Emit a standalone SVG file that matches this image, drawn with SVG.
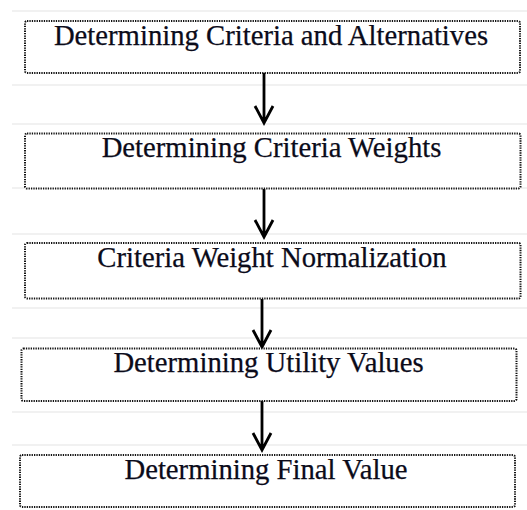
<svg xmlns="http://www.w3.org/2000/svg" width="527" height="510" viewBox="0 0 527 510">
<style>
.bg{fill:#ffffff}
.rule{stroke:#ececec;stroke-width:1.5}
.box{fill:#ffffff;stroke:#111;stroke-width:2;stroke-dasharray:1.3 1.1}
.lbl{font-family:"Liberation Serif","Times New Roman",serif;font-size:28.7px;fill:#0b0b1a;stroke:#0b0b1a;stroke-width:0.25;text-anchor:middle}
.arr{stroke:#000;stroke-width:2.8;fill:none}
</style>
<rect class="bg" x="0" y="0" width="527" height="510"/>
<g id="rules">
<line class="rule" x1="12" y1="11" x2="527" y2="11"/>
<line class="rule" x1="12" y1="85" x2="527" y2="85"/>
<line class="rule" x1="12" y1="124" x2="527" y2="124"/>
<line class="rule" x1="12" y1="188" x2="527" y2="188"/>
<line class="rule" x1="12" y1="234" x2="527" y2="234"/>
<line class="rule" x1="12" y1="308" x2="527" y2="308"/>
<line class="rule" x1="12" y1="338" x2="527" y2="338"/>
<line class="rule" x1="12" y1="412" x2="527" y2="412"/>
<line class="rule" x1="12" y1="445" x2="527" y2="445"/>
</g>
<g id="connectors">
<path class="arr" d="M264 73 V123 M255 106 L264 123 L273 106"/>
<path class="arr" d="M264 189 V237 M255 220 L264 237 L273 220"/>
<path class="arr" d="M262 299 V347 M253 330 L262 347 L271 330"/>
<path class="arr" d="M262 401 V450 M253 433 L262 450 L271 433"/>
</g>
<g id="n1">
<rect class="box" x="25" y="21" width="495" height="52" rx="2"/>
<text class="lbl" x="271" y="45">Determining Criteria and Alternatives</text>
</g>
<g id="n2">
<rect class="box" x="25" y="133.5" width="495.5" height="55" rx="2"/>
<text class="lbl" x="271.5" y="157">Determining Criteria Weights</text>
</g>
<g id="n3">
<rect class="box" x="25" y="243" width="495.5" height="55.5" rx="2"/>
<text class="lbl" x="272" y="267">Criteria Weight Normalization</text>
</g>
<g id="n4">
<rect class="box" x="21.5" y="348.5" width="495" height="52.5" rx="2"/>
<text class="lbl" x="268.5" y="372">Determining Utility Values</text>
</g>
<g id="n5">
<rect class="box" x="20" y="455" width="495" height="52" rx="2"/>
<text class="lbl" x="266" y="478.5">Determining Final Value</text>
</g>
</svg>
